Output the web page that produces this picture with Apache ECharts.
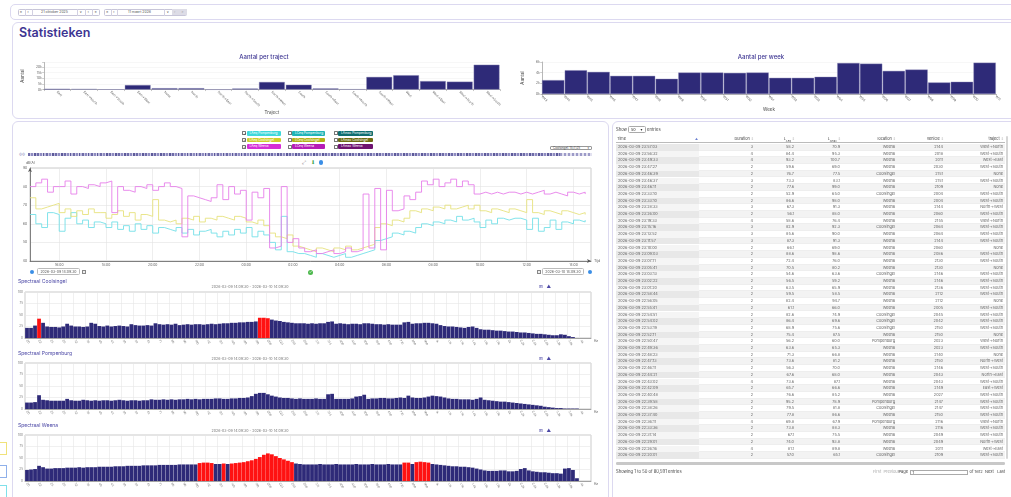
<!DOCTYPE html>
<html lang="nl">
<head>
<meta charset="utf-8">
<title>Statistieken</title>
<script src="https://cdn.jsdelivr.net/npm/echarts@6.0.0/dist/echarts.min.js"></script>
<style>
*{box-sizing:border-box;}
html,body{margin:0;padding:0;}
body{width:1011px;height:497px;overflow:hidden;position:relative;background:#fff;font-family:Inter,"Noto Sans","DejaVu Sans",sans-serif;color:#555;}
.a{position:absolute;white-space:nowrap;}
.panel{position:absolute;border:1.5px solid #dcd9f0;border-radius:6px;background:#fff;}
.grp{position:absolute;height:7px;border:0.8px solid #c7c5d8;border-radius:1.5px;background:#fff;}
.sep{position:absolute;width:0.8px;height:7px;background:#d2d0e2;}
.t4{font-size:4px;line-height:4px;}
.t35{font-size:3.5px;line-height:3.5px;}
.chk{position:absolute;width:4px;height:4px;border:0.6px solid #777;border-radius:0.6px;background:#fff;}
.lg{position:absolute;height:4.6px;border-radius:1px;color:#fff;font-size:3.2px;line-height:4.6px;padding-left:3px;white-space:nowrap;overflow:hidden;}
.chart{position:absolute;}
.stitle{position:absolute;font-size:5px;line-height:5px;color:#4b47a5;white-space:nowrap;}
.sdate{position:absolute;font-size:3.6px;line-height:4px;color:#777;white-space:nowrap;transform:translateX(-50%);}
.ico{position:absolute;font-size:4.5px;line-height:5px;color:#4b47a5;}
.cell{position:absolute;font-size:3.8px;line-height:6.7px;height:6.7px;white-space:nowrap;color:#666;}
.inp{position:absolute;height:7px;border:0.7px solid #bbb;border-radius:1.5px;background:#fff;font-size:3.5px;line-height:6px;text-align:center;color:#555;}
</style>
</head>
<body>

<!-- top toolbar -->
<div class="panel" style="left:10px;top:4px;width:1012px;height:16px;border-radius:5px;"></div>
<div class="grp" style="left:18px;top:8.5px;width:82px;"></div>
<div class="sep" style="left:24.5px;top:8.5px;"></div>
<div class="sep" style="left:32px;top:8.5px;"></div>
<div class="sep" style="left:77px;top:8.5px;"></div>
<div class="sep" style="left:85px;top:8.5px;"></div>
<div class="sep" style="left:92px;top:8.5px;"></div>
<div class="a t4" style="left:19.8px;top:10.2px;">«</div>
<div class="a t4" style="left:27.3px;top:10.2px;">‹</div>
<div class="a t35" style="left:41px;top:10.5px;">21 oktober 2025</div>
<div class="a t35" style="left:79.5px;top:10.5px;">∨</div>
<div class="a t4" style="left:87.5px;top:10.2px;">›</div>
<div class="a t4" style="left:94.5px;top:10.2px;">»</div>
<div class="grp" style="left:104px;top:8.5px;width:83px;"></div>
<div class="sep" style="left:110.5px;top:8.5px;"></div>
<div class="sep" style="left:117px;top:8.5px;"></div>
<div class="sep" style="left:164px;top:8.5px;"></div>
<div class="a t4" style="left:106px;top:10.2px;">«</div>
<div class="a t4" style="left:113px;top:10.2px;">‹</div>
<div class="a t35" style="left:128px;top:10.5px;">11 maart 2026</div>
<div class="a t35" style="left:166.5px;top:10.5px;">∨</div>
<div class="a" style="left:171.5px;top:9px;width:7px;height:6px;background:#dddce6;"></div>
<div class="a" style="left:179px;top:9px;width:7.5px;height:6px;background:#dddce6;"></div>
<div class="a t35" style="left:174px;top:10.5px;color:#aaa;">›</div>
<div class="a t35" style="left:181.5px;top:10.5px;color:#aaa;">»</div>

<!-- Statistieken panel -->
<div class="panel" style="left:12px;top:22px;width:1012px;height:97px;"></div>
<div class="a" style="left:19px;top:26px;font-size:12.5px;line-height:14px;font-weight:600;color:#3d3592;">Statistieken</div>
<div id="c1" class="chart" style="left:12px;top:42px;width:504px;height:74px;"></div>
<div id="c2" class="chart" style="left:512px;top:42px;width:498px;height:74px;"></div>

<!-- lower panels -->
<div class="panel" style="left:12px;top:121px;width:597px;height:390px;"></div>
<div class="panel" style="left:612px;top:121px;width:412px;height:390px;"></div>

<!-- legend grid -->
<div id="legend"></div>

<!-- select -->
<div class="a" style="left:550px;top:145.5px;width:42px;height:4.5px;border:0.6px solid #999;border-radius:1px;font-size:3px;line-height:3.6px;padding-left:2px;color:#444;">Coolsingel: 15/7/25<span style="position:absolute;right:2px;">▾</span></div>

<!-- timeline strip -->
<div class="a" style="left:19px;top:153px;font-size:3.5px;line-height:3.5px;color:#5a57a0;">◎◎</div>
<div class="a" style="left:28px;top:153px;width:564px;height:3.4px;background:repeating-linear-gradient(90deg,#6e6ba8 0px,#6e6ba8 2px,#c9c7e2 2px,#c9c7e2 3px,#8e8bc0 3px,#8e8bc0 5px,#d9d7ec 5px,#d9d7ec 6px,#5d5a9a 6px,#5d5a9a 7.5px,#b9b7da 7.5px,#b9b7da 9px);"></div>
<div class="a" style="left:560px;top:153px;width:32px;height:3.4px;background:repeating-linear-gradient(90deg,#9d9bc8 0px,#9d9bc8 2px,#e2e1f0 2px,#e2e1f0 4px);"></div>

<!-- toolbar icons -->
<div class="a" style="left:302px;top:159.5px;font-size:5px;line-height:5px;color:#777;">⤢</div>
<div class="a" style="left:311px;top:159.5px;font-size:5px;line-height:5px;color:#3aa24a;">⬇</div>
<div class="a" style="left:318.5px;top:160px;width:4.5px;height:4.5px;border-radius:50%;background:#3a8ee6;"></div>

<!-- main time series -->
<div id="c3" class="chart" style="left:14px;top:158px;width:594px;height:112px;"></div>

<!-- date pickers -->
<div class="a" style="left:29.5px;top:269.5px;width:4px;height:4px;border-radius:50%;background:#3a8ee6;"></div>
<div class="inp" style="left:37px;top:268px;width:43px;">2026-03-09 14:09:30</div>
<div class="a" style="left:82px;top:269.5px;width:4px;height:4px;border:0.6px solid #888;background:#eee;"></div>
<div class="a" style="left:308px;top:270px;width:5px;height:5px;border-radius:50%;background:#4cb84c;color:#fff;font-size:3.5px;line-height:5px;text-align:center;">✓</div>
<div class="a" style="left:536.5px;top:269.5px;width:4px;height:4px;border:0.6px solid #888;background:#eee;"></div>
<div class="inp" style="left:542px;top:268px;width:42px;">2026-03-10 14:09:30</div>
<div class="a" style="left:587.5px;top:269.5px;width:4px;height:4px;border-radius:50%;background:#3a8ee6;"></div>

<!-- spectral titles -->
<div class="stitle" style="left:18px;top:278.5px;">Spectraal Coolsingel</div>
<div class="sdate" style="left:250px;top:285px;">2026-03-09 14:09:30 - 2026-03-10 14:09:30</div>
<div class="ico" style="left:539px;top:283.5px;">⊞</div><div class="ico" style="left:546.5px;top:283.5px;">▲</div>
<div id="s1" class="chart" style="left:14px;top:289px;width:594px;height:64px;"></div>

<div class="stitle" style="left:18px;top:350.5px;">Spectraal Pompenburg</div>
<div class="sdate" style="left:250px;top:357px;">2026-03-09 14:09:30 - 2026-03-10 14:09:30</div>
<div class="ico" style="left:539px;top:355.5px;">⊞</div><div class="ico" style="left:546.5px;top:355.5px;">▲</div>
<div id="s2" class="chart" style="left:14px;top:360px;width:594px;height:64px;"></div>

<div class="stitle" style="left:18px;top:422.5px;">Spectraal Weena</div>
<div class="sdate" style="left:250px;top:429px;">2026-03-09 14:09:30 - 2026-03-10 14:09:30</div>
<div class="ico" style="left:539px;top:427.5px;">⊞</div><div class="ico" style="left:546.5px;top:427.5px;">▲</div>
<div id="s3" class="chart" style="left:14px;top:432px;width:594px;height:65px;"></div>

<!-- left edge remnants -->
<div class="a" style="left:-4px;top:442px;width:11px;height:13px;border:1px solid #f0e27a;"></div>
<div class="a" style="left:-4px;top:465px;width:11px;height:13px;border:1px solid #8fb0ea;"></div>
<div class="a" style="left:-4px;top:485px;width:11px;height:14px;border:1px solid #7fe0ea;"></div>

<!-- table -->
<div class="a" style="left:616px;top:127.5px;font-size:4.2px;line-height:4.5px;color:#444;">Show</div>
<div class="a" style="left:627.5px;top:125.5px;width:18px;height:7px;border:0.7px solid #aaa;border-radius:1.5px;font-size:3.8px;line-height:6px;padding-left:2.5px;color:#333;">50<span style="position:absolute;right:2px;">▾</span></div>
<div class="a" style="left:647px;top:127.5px;font-size:4.2px;line-height:4.5px;color:#444;">entries</div>
<div id="tbl"></div>
<div class="a" style="left:616px;top:462px;width:389px;height:2.6px;border-radius:1.3px;background:#c8c8c8;"></div>
<div class="a" style="left:1005.5px;top:136px;width:2.8px;height:323px;border-radius:1.4px;background:#d6d6d6;"></div>
<div class="a" style="left:616px;top:470px;font-size:4.2px;line-height:4.5px;color:#444;">Showing 1 to 50 of 80,591 entries</div>
<div class="a" style="left:873px;top:470px;font-size:4px;line-height:4.5px;color:#aaa;">First&nbsp; Previous</div>
<div class="a" style="left:898.5px;top:470px;font-size:4px;line-height:4.5px;color:#444;">Page</div>
<div class="a" style="left:910px;top:469.5px;width:58px;height:5px;border:0.6px solid #aaa;font-size:3.8px;line-height:4px;padding-left:1.5px;color:#333;">1</div>
<div class="a" style="left:969.5px;top:470px;font-size:4px;line-height:4.5px;color:#444;">of 1612&nbsp; Next&nbsp;&nbsp; Last</div>

<script>
// ---------------- DATA ----------------
const trajectCategories = ["East","East->North","East->South","East->West","None","North","North->East","North->South","North->West","South","South->East","South->North","South->West","West","West->East","West->North","West->South"];
const trajectCounts = [700, 500, 100, 4000, 1200, 1200, 50, 900, 6700, 4200, 1000, 200, 11200, 12700, 7500, 7000, 22000];

const weekBoundaryLabels = ["W43","W44","W45","W46","W47","W48","W49","W50","W51","W52","W01","W02","W03","W04","W05","W06","W07","W08","W09","W10","W11"];
const weekCounts = [2600, 4450, 4140, 3400, 3400, 2850, 4020, 4020, 3960, 4020, 3030, 3030, 3220, 5810, 5690, 4330, 4580, 2160, 2290, 5870];

const seriesStart = [2026, 2, 9, 14, 45]; // 2026-03-09 14:45, sampling every 15 minutes
const stepMinutes = 15;
const timeTickHours = [16, 18, 20, 22, 24, 26, 28, 30, 32, 34, 36, 38]; // hours after 2026-03-09 00:00 (labels 16:00 ... 14:00)
const laeqPompenburg = [
 65,60,58,66,65,56,63,66,60,62,58,61,
 60,58,61,57,59,56,60,57,59,55,58,57,
 56,58,55,57,54,56,57,55,53,56,54,57,
 55,58,53,56,54,50,46,64,45,44,44,
 43,42,44,43,42,43,44,42,43,44,45,46,
 51,52,53,55,54,56,55,58,60,59,61,60,
 62,61,64,62,63,61,58,62,60,63,62,63,
 63,62,57,63,56,58,62,57,61,60,62,61,62];
const laeqCoolsingel = [
 74,68,69,70,71,66,68,64,67,65,68,66,
 66,63,65,67,64,66,62,65,64,73,62,61,
 62,60,63,62,64,61,63,62,64,63,62,64,
 63,61,60,62,59,55,53,52,54,48,47,
 46,45,47,46,45,47,46,48,46,47,48,49,
 58,60,59,62,61,63,67,66,68,67,69,68,
 70,68,69,70,68,70,67,66,68,67,66,68,
 67,66,73,66,65,67,66,65,67,66,65,66,65];
const laeqWeena = [
 80,82,84,77,80,80,83,76,80,79,81,80,
 82,83,66,80,78,77,80,79,81,78,80,82,
 80,79,53,75,74,73,72,74,81,73,80,76,
 78,62,77,74,79,47,48,80,50,52,47,
 45,46,44,45,46,44,45,47,45,46,76,47,
 79,46,78,67,68,75,73,77,83,81,84,80,
 82,84,80,83,81,76,77,76,77,76,77,77,
 76,77,76,77,78,76,77,76,75,77,76,77,76];
const timeAxisTicks = [40, 50, 60, 70, 80, 90];

const spectrumLabels = ["20","22","25","28","32","36","40","45","50","56","63","71","80","90","100","112","125","140","160","180","200","224","250","280","315","355","400","450","500","560","630","710","800","900","1k","1.1k","1.3k","1.4k","1.6k","1.8k","2k","2.2k","2.5k","2.8k","3.2k","3.6k","4k"];
const specCoolsingel = [
 22,22,27,42,33,25,24,24,23,25,
 31,27,25,25,24,25,33,31,26,25,
 27,25,26,27,26,25,30,28,27,27,
 28,27,32,30,29,30,29,31,28,29,
 30,29,30,30,29,30,31,30,31,32,
 32,33,33,34,34,35,35,36,44,44,
 43,40,38,37,35,34,33,32,32,32,
 31,32,31,32,32,35,36,31,32,31,
 30,31,31,30,32,32,31,30,30,29,
 30,29,29,29,34,35,31,32,32,33,
 33,32,31,28,26,25,25,24,23,22,
 24,25,22,19,18,18,17,16,16,15,
 14,14,13,12,12,11,10,9,9,8,
 7,6,6,8,7,4,2,0,0,0,0];
const specPompenburg = [
 14,14,15,30,20,19,18,18,18,18,
 22,19,18,18,20,19,18,19,18,19,
 19,18,19,20,19,18,19,19,18,19,
 19,21,20,20,21,20,21,20,21,21,
 22,21,22,21,22,22,22,23,23,22,
 22,23,23,24,24,25,28,33,35,35,
 32,29,27,25,24,24,23,22,23,22,
 22,22,23,22,22,32,33,22,22,22,
 22,23,27,28,31,22,23,23,24,24,
 23,23,24,25,24,29,25,24,24,25,
 27,29,28,27,25,23,22,22,21,21,
 21,20,22,25,20,19,18,17,16,16,
 15,14,13,12,11,10,9,8,7,5,
 4,3,2,2,1,1,1,1,0,0,0];
const specWeena = [
 24,25,26,33,30,27,27,28,28,28,
 29,29,29,30,29,30,30,30,31,31,
 31,31,32,32,32,33,33,33,33,34,
 34,34,34,35,35,35,35,35,36,36,
 36,36,36,39,40,40,39,37,37,38,
 37,38,39,40,41,43,45,48,52,57,
 60,58,54,50,47,44,41,38,37,36,
 36,36,36,37,36,36,36,37,36,36,
 36,36,37,36,36,36,37,36,36,36,
 37,36,36,36,40,40,37,41,42,41,
 40,37,36,35,34,33,32,32,31,31,
 30,29,27,25,23,22,22,22,23,23,
 21,21,22,26,28,23,21,20,19,19,
 18,17,17,16,27,28,24,6,0,0,0];
const alarmCoolsingel = [3, 58, 59, 60];
const alarmPompenburg = [];
const alarmWeena = [43,44,45,46,49,51,52,53,54,55,56,57,58,59,60,61,62,63,64,65,66,94,95,97,98,99,100];

const tblTime = ["2026-03-09 23:57:03","2026-03-09 23:56:32","2026-03-09 23:49:33","2026-03-09 23:47:27","2026-03-09 23:46:39","2026-03-09 23:46:37","2026-03-09 23:46:11","2026-03-09 23:33:10","2026-03-09 23:33:10","2026-03-09 23:28:33","2026-03-09 23:26:00","2026-03-09 23:19:33","2026-03-09 23:15:16","2026-03-09 23:13:52","2026-03-09 23:11:57","2026-03-09 23:10:00","2026-03-09 23:09:03","2026-03-09 23:07:11","2026-03-09 23:05:41","2026-03-09 23:03:13","2026-03-09 23:02:22","2026-03-09 23:01:20","2026-03-09 22:58:44","2026-03-09 22:56:05","2026-03-09 22:55:41","2026-03-09 22:54:51","2026-03-09 22:54:02","2026-03-09 22:53:19","2026-03-09 22:52:11","2026-03-09 22:50:47","2026-03-09 22:49:36","2026-03-09 22:48:23","2026-03-09 22:47:13","2026-03-09 22:46:11","2026-03-09 22:44:21","2026-03-09 22:43:02","2026-03-09 22:42:09","2026-03-09 22:40:48","2026-03-09 22:39:58","2026-03-09 22:38:26","2026-03-09 22:37:40","2026-03-09 22:36:11","2026-03-09 22:33:36","2026-03-09 22:31:14","2026-03-09 22:29:01","2026-03-09 22:26:16","2026-03-09 22:20:01"];
const tblDuration = [3,4,4,2,2,3,2,2,2,3,2,4,3,3,3,2,2,2,2,2,2,2,2,2,2,2,2,2,2,2,2,2,2,2,2,4,2,2,2,2,2,4,2,2,2,4,2];
const tblLAeq = ["58.2","84.4","93.2","59.6","76.7","73.3","77.6","52.9","86.6","67.3","56.1","58.6","82.9","85.6","87.3","66.1","88.6","72.4","70.5","54.6","56.5","63.5","59.5","82.4","61.1","82.6","86.4","68.9","75.4","56.2","63.6","71.3","73.6","56.3","67.6","73.6","65.7","76.6","95.2","79.5","77.8","69.8","73.8","67.1","74.0","81.1","57.0"];
const tblLAmax = ["70.9","95.3","100.7","69.0","77.5","83.1","99.0","65.0","98.0","91.3","88.0","76.4","92.3","90.0","91.3","69.0","98.6","76.0","80.2","63.6","59.2","65.9","58.5","94.7","66.0","74.9","69.6","75.6","87.5","60.0","65.3","66.8","81.2","70.0","68.0","87.1","66.6","85.2","78.9","81.8","86.6","67.9","88.3","75.5","93.8","89.8","65.1"];
const tblLocation = ["Weena","Weena","Weena","Weena","Coolsingel","Weena","Weena","Coolsingel","Weena","Weena","Weena","Weena","Coolsingel","Weena","Weena","Weena","Weena","Weena","Weena","Coolsingel","Weena","Weena","Weena","Weena","Weena","Coolsingel","Coolsingel","Coolsingel","Weena","Pompenburg","Weena","Weena","Weena","Weena","Weena","Weena","Weena","Weena","Pompenburg","Coolsingel","Weena","Pompenburg","Weena","Weena","Weena","Weena","Coolsingel"];
const tblVehicle = [2144,2018,2011,2030,2151,2151,2109,2004,2004,2144,2060,2155,2064,2064,2144,2060,2086,2130,2130,2146,2146,2136,2112,2112,2005,2045,2042,2150,2150,2023,2023,2140,2150,2146,2043,2043,2149,2027,2147,2147,2150,2116,2116,2049,2049,2011,2109];
const tblTraject = ["West->North","West->South","West->East","West->South","None","West->South","None","West->South","West->South","North->West","West->South","West->North","West->South","West->South","West->South","None","West->South","West->South","None","West->South","West->South","West->South","West->South","None","West->South","West->South","West->South","West->South","None","West->North","West->South","None","North->West","West->South","North->East","West->South","East->West","West->South","West->South","West->South","West->South","West->North","West->South","West->South","North->West","West->East","West->South"];

// ---------------- STYLE CONSTANTS ----------------
const FONT = 'Inter, "Noto Sans", sans-serif';
const NAVY = '#2e2a78';

// ---------------- LEGEND ----------------
(function(){
  const rows = ['Pompenburg','Coolsingel','Weena'];
  const cols = [
    {cx:242, bx:246.5, w:34.5, prefix:'LAeq ', colors:['#3ed8da','#cfcf2c','#d62ed6'], checked:true},
    {cx:287.5, bx:292, w:33, prefix:'LCeq ', colors:['#1fb4b6','#b3b316','#b61cb6'], checked:false},
    {cx:333.5, bx:338, w:35, prefix:'LAmax ', colors:['#0f6e70','#6e6d12','#6e1270'], checked:false}
  ];
  const ys = [131, 137.6, 144.2];
  let h = '';
  cols.forEach(c => rows.forEach((r, k) => {
    h += `<div class="chk" style="left:${c.cx}px;top:${ys[k]+0.3}px;">${c.checked?'<span style="position:absolute;left:0.3px;top:-0.6px;font-size:3.5px;line-height:4px;color:#333;">✓</span>':''}</div>`;
    h += `<div class="lg" style="left:${c.bx}px;top:${ys[k]}px;width:${c.w}px;background:${c.colors[k]};">${c.prefix}${r}</div>`;
  }));
  document.getElementById('legend').innerHTML = h;
})();

// ---------------- TABLE ----------------
(function(){
  let h = '';
  const top0 = 144, rh = 6.7;
  h += `<div class="a" style="left:616px;top:135px;width:389px;height:8px;border-bottom:0.8px solid #bbb;"></div>`;
  const hdr = [
    ['Time', 617, 'left'], ['Duration ⇕', 754, 'right'], ['L<sub style="font-size:2.6px">Aeq</sub> ⇕', 795, 'right'],
    ['L<sub style="font-size:2.6px">Amax</sub> ⇕', 841, 'right'], ['location ⇕', 896, 'right'], ['vehicle ⇕', 944, 'right'], ['traject ⇕', 1004, 'right']
  ];
  hdr.forEach(([t, x, al]) => {
    if (al === 'left') h += `<div class="cell" style="left:${x}px;top:135.5px;color:#444;">${t}</div>`;
    else h += `<div class="cell" style="right:${1011-x}px;top:135.5px;color:#444;text-align:right;">${t.replace('⇕','<span style="color:#bbb">⇕</span>')}</div>`;
  });
  h += `<div class="cell" style="left:695px;top:135.5px;color:#6a7fd0;font-size:3px;">▲</div>`;
  for (let i = 0; i < tblTime.length; i++) {
    const y = top0 + i * rh;
    const odd = i % 2 === 0;
    h += `<div class="a" style="left:616px;top:${y}px;width:389px;height:${rh}px;background:${odd?'#f3f3f3':'#fff'};border-bottom:0.4px solid #eee;"></div>`;
    h += `<div class="a" style="left:616px;top:${y}px;width:83px;height:${rh}px;background:${odd?'#e8e8e8':'#f5f5f5'};"></div>`;
    h += `<div class="cell" style="left:618px;top:${y}px;">${tblTime[i]}</div>`;
    const vals = [tblDuration[i], tblLAeq[i], tblLAmax[i], tblLocation[i], tblVehicle[i], tblTraject[i]];
    const rights = [753, 794, 840, 895, 943, 1003];
    vals.forEach((v, k) => { h += `<div class="cell" style="right:${1011-rights[k]}px;top:${y}px;text-align:right;">${v}</div>`; });
  }
  document.getElementById('tbl').innerHTML = h;
})();

// ---------------- CHART 1: Aantal per traject ----------------
const c1 = echarts.init(document.getElementById('c1'), null, {renderer:'canvas'});
c1.setOption({
  animation:false,
  textStyle:{fontFamily:FONT},
  title:{text:'Aantal per traject', left:'center', top:7.5, textStyle:{fontSize:6, fontWeight:500, color:'#3d3592', fontFamily:FONT}},
  grid:{left:25, right:16, top:20.5, height:32, containLabel:false},
  xAxis:{type:'category', data:trajectCategories,
    name:'Traject', nameLocation:'middle', nameGap:13, nameTextStyle:{fontSize:4.5, color:'#444'},
    axisLine:{lineStyle:{color:'#888', width:0.6}}, axisTick:{show:true, length:1.5, lineStyle:{color:'#888', width:0.5}},
    axisLabel:{interval:0, rotate:-45, fontSize:3.2, color:'#666', margin:2}},
  yAxis:{type:'value', min:0, max:24000, interval:5000,
    name:'Aantal', nameLocation:'middle', nameGap:10, nameRotate:90, nameTextStyle:{fontSize:4.5, color:'#444'},
    axisLine:{show:true, lineStyle:{color:'#888', width:0.6}}, axisTick:{show:true, length:1.5, lineStyle:{color:'#888', width:0.5}},
    axisLabel:{fontSize:3.3, color:'#666', margin:2, formatter:v => (v % 5000 === 0 ? (v/1000) + 'k' : '')},
    splitLine:{show:true, lineStyle:{color:'#eeeeee', width:0.5}}},
  series:[{type:'bar', data:trajectCounts, barCategoryGap:'4%', itemStyle:{color:NAVY, borderColor:'#8d8ab8', borderWidth:0.4}}]
});

// ---------------- CHART 2: Aantal per week ----------------
const c2 = echarts.init(document.getElementById('c2'), null, {renderer:'canvas'});
c2.setOption({
  animation:false,
  textStyle:{fontFamily:FONT},
  title:{text:'Aantal per week', left:'center', top:7.5, textStyle:{fontSize:6, fontWeight:500, color:'#3d3592', fontFamily:FONT}},
  grid:{left:21, right:14, top:20, height:32},
  xAxis:{type:'value', min:0, max:weekCounts.length, interval:1,
    name:'Week', nameLocation:'middle', nameGap:13, nameTextStyle:{fontSize:4.5, color:'#444'},
    axisLine:{show:true, lineStyle:{color:'#888', width:0.6}}, axisTick:{show:true, length:1.5, lineStyle:{color:'#888', width:0.5}},
    splitLine:{show:false},
    axisLabel:{rotate:-45, fontSize:3.2, color:'#666', margin:2, formatter:v => weekBoundaryLabels[v] || ''}},
  yAxis:{type:'value', min:0, max:6000, interval:2000,
    name:'Aantal', nameLocation:'middle', nameGap:8, nameRotate:90, nameTextStyle:{fontSize:4.5, color:'#444'},
    axisLine:{show:true, lineStyle:{color:'#888', width:0.6}}, axisTick:{show:true, length:1.5, lineStyle:{color:'#888', width:0.5}},
    axisLabel:{fontSize:3.3, color:'#666', margin:2, formatter:v => (v/1000) + 'k'},
    splitLine:{show:true, lineStyle:{color:'#eeeeee', width:0.5}}},
  series:[{type:'bar', barWidth:22.3, data:weekCounts.map((v, i) => [i + 0.5, v]),
    itemStyle:{color:NAVY, borderColor:'#8d8ab8', borderWidth:0.4}}]
});

// ---------------- CHART 3: LAeq time series ----------------
const t0 = new Date(seriesStart[0], seriesStart[1], seriesStart[2], seriesStart[3], seriesStart[4]).getTime();
const stepMs = stepMinutes * 60000;
const toPairs = arr => arr.map((v, i) => [t0 + i * stepMs, v]);
const timeTicks = timeTickHours.map(h => new Date(seriesStart[0], seriesStart[1], seriesStart[2], h, 0).getTime());
const pad = n => (n < 10 ? '0' : '') + n;
const c3 = echarts.init(document.getElementById('c3'), null, {renderer:'canvas'});
c3.setOption({
  animation:false,
  textStyle:{fontFamily:FONT},
  grid:{left:16, top:10, width:561, height:93, show:true, borderColor:'#b5b5b5', borderWidth:0.7, backgroundColor:'transparent'},
  xAxis:{type:'value', min:t0, max:t0 + 24 * 3600000,
    name:'Tijd', nameLocation:'end', nameGap:3, nameTextStyle:{fontSize:3.5, color:'#555', verticalAlign:'middle'},
    axisLine:{show:true, symbol:['none','arrow'], symbolSize:[3,4], lineStyle:{color:'#555', width:0.7}},
    axisTick:{show:false, customValues:timeTicks},
    axisLabel:{fontSize:3.3, color:'#666', margin:3, customValues:timeTicks,
      formatter:v => { const d = new Date(v); return pad(d.getHours()) + ':' + pad(d.getMinutes()); }},
    splitLine:{show:true, lineStyle:{color:'#e3e3e3', width:0.6}}},
  yAxis:{type:'value', min:timeAxisTicks[0], max:timeAxisTicks[timeAxisTicks.length-1], interval:10,
    name:'dB(A)', nameLocation:'end', nameGap:3, nameTextStyle:{fontSize:3.3, color:'#555', align:'left', padding:[0,0,0,-4]},
    axisLine:{show:true, symbol:['none','arrow'], symbolSize:[3,4], lineStyle:{color:'#555', width:0.7}},
    axisTick:{show:false},
    axisLabel:{fontSize:3.3, color:'#666', margin:3},
    splitLine:{show:true, lineStyle:{color:'#e3e3e3', width:0.6}}},
  series:[
    {name:'LAeq Pompenburg', type:'line', step:'end', showSymbol:false, data:toPairs(laeqPompenburg), lineStyle:{color:'#74e0e8', width:0.9}, itemStyle:{color:'#74e0e8'}},
    {name:'LAeq Coolsingel', type:'line', step:'end', showSymbol:false, data:toPairs(laeqCoolsingel), lineStyle:{color:'#e6e27e', width:0.9}, itemStyle:{color:'#e6e27e'}},
    {name:'LAeq Weena', type:'line', step:'end', showSymbol:false, data:toPairs(laeqWeena), lineStyle:{color:'#e77fea', width:0.9}, itemStyle:{color:'#e77fea'}}
  ]
});

// ---------------- SPECTRAL CHARTS ----------------
const specCats = specCoolsingel.map((_, i) => String(i));
function specOption(values, alarms){
  return {
    animation:false,
    textStyle:{fontFamily:FONT},
    grid:{left:11, top:3, width:566, height:46, show:true, borderColor:'#b5b5b5', borderWidth:0.7},
    xAxis:{type:'category', data:specCats,
      name:'Hz', nameLocation:'end', nameGap:3, nameTextStyle:{fontSize:3.2, color:'#555', verticalAlign:'top', padding:[2,0,0,0]},
      axisLine:{show:true, lineStyle:{color:'#777', width:0.6}},
      axisTick:{show:false},
      axisLabel:{interval:2, rotate:-60, fontSize:3, color:'#777', margin:2, formatter:(v, i) => spectrumLabels[Math.round(i/3)] || ''},
      splitLine:{show:true, interval:2, lineStyle:{color:'#e6e6e6', width:0.6}}},
    yAxis:{type:'value', min:0, max:100, interval:25,
      axisLine:{show:false}, axisTick:{show:false},
      axisLabel:{fontSize:3, color:'#777', margin:2},
      splitLine:{show:true, lineStyle:{color:'#e6e6e6', width:0.6}}},
    series:[{type:'bar', barCategoryGap:'6%',
      data:values.map((v, i) => alarms.indexOf(i) >= 0 ? {value:v, itemStyle:{color:'#ff1212'}} : v),
      itemStyle:{color:NAVY}}]
  };
}
echarts.init(document.getElementById('s1')).setOption(specOption(specCoolsingel, alarmCoolsingel));
echarts.init(document.getElementById('s2')).setOption(specOption(specPompenburg, alarmPompenburg));
echarts.init(document.getElementById('s3')).setOption(specOption(specWeena, alarmWeena));
</script>
</body>
</html>
